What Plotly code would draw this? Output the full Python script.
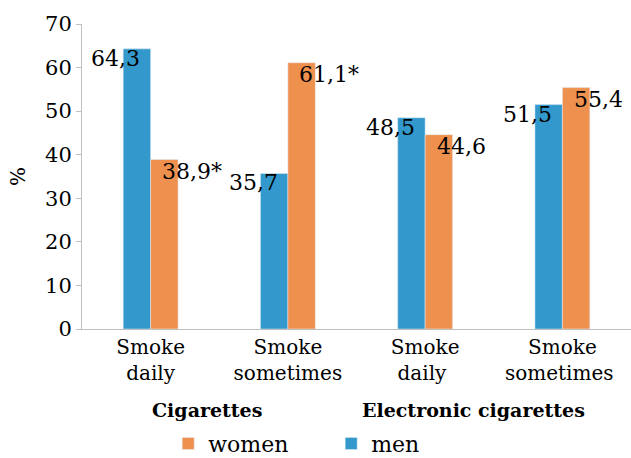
import plotly.graph_objects as go

categories = ["Smoke<br>daily", "Smoke<br>sometimes", "Smoke<br>daily ", "Smoke<br>sometimes "]
men = [64.3, 35.7, 48.5, 51.5]
women = [38.9, 61.1, 44.6, 55.4]
men_labels = ["64,3", "35,7", "48,5", "51,5"]
women_labels = ["38,9*", "61,1*", "44,6", "55,4"]
groups = ["Cigarettes", "Electronic cigarettes"]
group_pos = [0.41, 2.35]
y_ticks = [0, 10, 20, 30, 40, 50, 60, 70]

BLUE = "#3399CC"
ORANGE = "#EE914F"
FONT = "DejaVu Serif"

fig = go.Figure()
fig.add_trace(go.Bar(x=categories, y=men, name="men", marker_color=BLUE, legendrank=2))
fig.add_trace(go.Bar(x=categories, y=women, name="women", marker_color=ORANGE, legendrank=1))

ann = []
for i, (v, t) in enumerate(zip(men, men_labels)):
    ann.append(dict(x=i - 0.06, y=v, text=t, xref="x", yref="y", xanchor="right", yanchor="top",
                    showarrow=False, font=dict(size=22, color="black", family=FONT), yshift=5))
for i, (v, t) in enumerate(zip(women, women_labels)):
    ann.append(dict(x=i + 0.07, y=v, text=t, xref="x", yref="y", xanchor="left", yanchor="top",
                    showarrow=False, font=dict(size=22, color="black", family=FONT), yshift=3))
for g, p in zip(groups, group_pos):
    ann.append(dict(x=p, y=0, text="<b>" + g + "</b>", xref="x", yref="paper", showarrow=False,
                    yanchor="middle", yshift=-(410 - 329),
                    font=dict(size=19, color="black", family=FONT)))

fig.update_layout(
    width=631, height=458,
    margin=dict(l=82, r=0, t=24, b=129, autoexpand=False),
    plot_bgcolor="white", paper_bgcolor="white",
    barmode="group", bargap=0.6, bargroupgap=0,
    font=dict(family=FONT, size=20, color="black"),
    showlegend=True,
    legend=dict(orientation="h", xref="paper", yref="paper", x=0.157, y=-0.376,
                xanchor="left", yanchor="middle", font=dict(size=22, family=FONT),
                entrywidth=118, traceorder="normal"),
    annotations=ann,
)
fig.update_xaxes(showline=True, linecolor="#BFBFBF", linewidth=1, ticks="",
                 tickfont=dict(size=20, family=FONT), showgrid=False)
fig.update_yaxes(range=[0, 70], tickvals=y_ticks, showline=True, linecolor="#BFBFBF", linewidth=1,
                 ticks="outside", ticklen=5, tickcolor="#BFBFBF", showgrid=False, zeroline=False,
                 tickfont=dict(size=21, family=FONT),
                 title=dict(text="%", font=dict(size=20, family=FONT), standoff=14))

fig.write_html("out.html")
